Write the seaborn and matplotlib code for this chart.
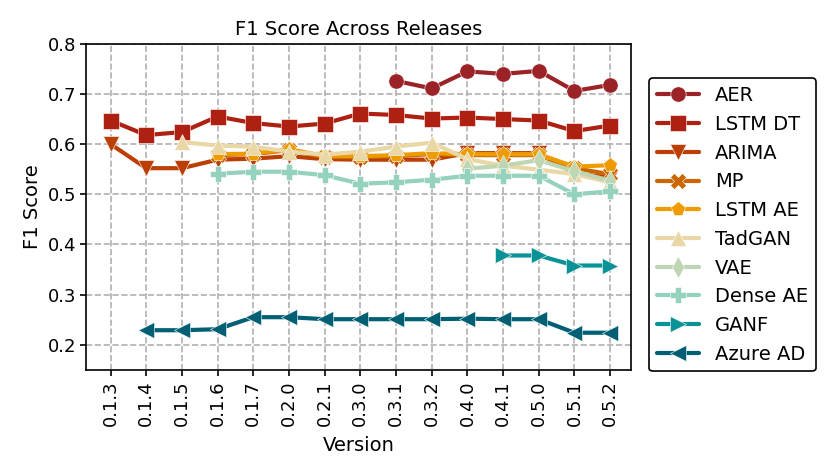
import numpy as np
import pandas as pd
import matplotlib
matplotlib.use("Agg")
import matplotlib.pyplot as plt
import seaborn as sns

versions = ["0.1.3", "0.1.4", "0.1.5", "0.1.6", "0.1.7", "0.2.0", "0.2.1", "0.3.0",
            "0.3.1", "0.3.2", "0.4.0", "0.4.1", "0.5.0", "0.5.1", "0.5.2"]
nan = np.nan

aer = [nan, nan, nan, nan, nan, nan, nan, nan, 0.726, 0.711, 0.745, 0.740, 0.746, 0.706, 0.718]
lstm_dt = [0.647, 0.618, 0.624, 0.655, 0.642, 0.635, 0.641, 0.661, 0.658, 0.651, 0.653, 0.650, 0.647, 0.626, 0.637]
arima = [0.600, 0.552, 0.552, 0.569, 0.571, 0.576, 0.570, 0.569, 0.569, 0.569, 0.582, 0.582, 0.582, 0.542, 0.533]
mp = [nan, nan, nan, 0.578, 0.580, 0.588, 0.574, 0.574, 0.576, 0.580, 0.578, 0.578, 0.578, 0.552, 0.540]
lstm_ae = [nan, nan, nan, 0.580, 0.581, 0.590, 0.576, 0.576, 0.578, 0.582, 0.580, 0.580, 0.580, 0.555, 0.558]
tadgan = [nan, nan, 0.604, 0.597, 0.595, 0.585, 0.579, 0.585, 0.595, 0.603, 0.570, 0.557, 0.549, 0.540, 0.524]
vae = [nan, nan, nan, nan, nan, nan, nan, nan, nan, nan, 0.551, 0.557, 0.568, 0.546, 0.527]
dense_ae = [nan, nan, nan, 0.541, 0.545, 0.545, 0.538, 0.521, 0.524, 0.529, 0.537, 0.537, 0.537, 0.500, 0.506]
ganf = [nan, nan, nan, nan, nan, nan, nan, nan, nan, nan, nan, 0.378, 0.378, 0.358, 0.358]
azure_ad = [nan, 0.229, 0.229, 0.231, 0.255, 0.255, 0.251, 0.251, 0.251, 0.251, 0.252, 0.251, 0.251, 0.224, 0.224]

methods = ["AER", "LSTM DT", "ARIMA", "MP", "LSTM AE", "TadGAN", "VAE", "Dense AE", "GANF", "Azure AD"]
scores = [aer, lstm_dt, arima, mp, lstm_ae, tadgan, vae, dense_ae, ganf, azure_ad]
colors = ["#9b2226", "#ae2012", "#bb3e03", "#ca6702", "#ee9b00", "#e9d8a6",
          "#bed6b1", "#94d2bd", "#0a9396", "#005f73"]
markers = ["o", "s", "v", "X", "p", "^", "d", "P", ">", "<"]

rows = []
for m, vals in zip(methods, scores):
    for i, v in enumerate(vals):
        if not np.isnan(v):
            rows.append({"idx": i, "Version": versions[i], "F1 Score": v, "Method": m})
df = pd.DataFrame(rows)

sns.set_style("ticks")
plt.rcParams["font.family"] = ["DejaVu Sans"]
plt.rcParams["text.color"] = "black"
plt.rcParams["axes.labelcolor"] = "black"
plt.rcParams["xtick.color"] = "black"
plt.rcParams["ytick.color"] = "black"

fig, ax = plt.subplots(figsize=(8.3, 4.76), dpi=100)
fig.subplots_adjust(left=0.104, right=0.760, top=0.908, bottom=0.223)

sns.lineplot(data=df, x="idx", y="F1 Score", hue="Method", style="Method",
             hue_order=methods, style_order=methods,
             palette=dict(zip(methods, colors)), markers=dict(zip(methods, markers)),
             dashes=False, linewidth=3, markersize=11, markeredgewidth=0.4,
             ax=ax)

ax.set_xticks(range(len(versions)))
ax.set_xticklabels(versions, rotation=90)
ax.tick_params(axis="both", labelsize=13, length=4, width=1.2, color="black")
ax.set_ylim(0.15, 0.8)
ax.set_yticks([0.2, 0.3, 0.4, 0.5, 0.6, 0.7, 0.8])
ax.set_xlim(-0.68, 14.58)
ax.grid(True, linestyle="--", color="#b0b0b0", linewidth=1.2)
ax.set_axisbelow(True)
for s in ax.spines.values():
    s.set_color("black")
    s.set_linewidth(1.2)

ax.set_xlabel("Version", fontsize=14, labelpad=7)
ax.set_ylabel("F1 Score", fontsize=14)
ax.set_title("F1 Score Across Releases", fontsize=14)

handles, labels = ax.get_legend_handles_labels()
leg = ax.legend(handles, labels, loc="lower left", bbox_to_anchor=(1.033, -0.005),
                fontsize=14, frameon=True, fancybox=True, edgecolor="black",
                borderaxespad=0, handlelength=2.2, labelspacing=0.5)
leg.get_frame().set_linewidth(1.2)
leg.get_frame().set_alpha(1)

fig.savefig("out.png", dpi=100)
